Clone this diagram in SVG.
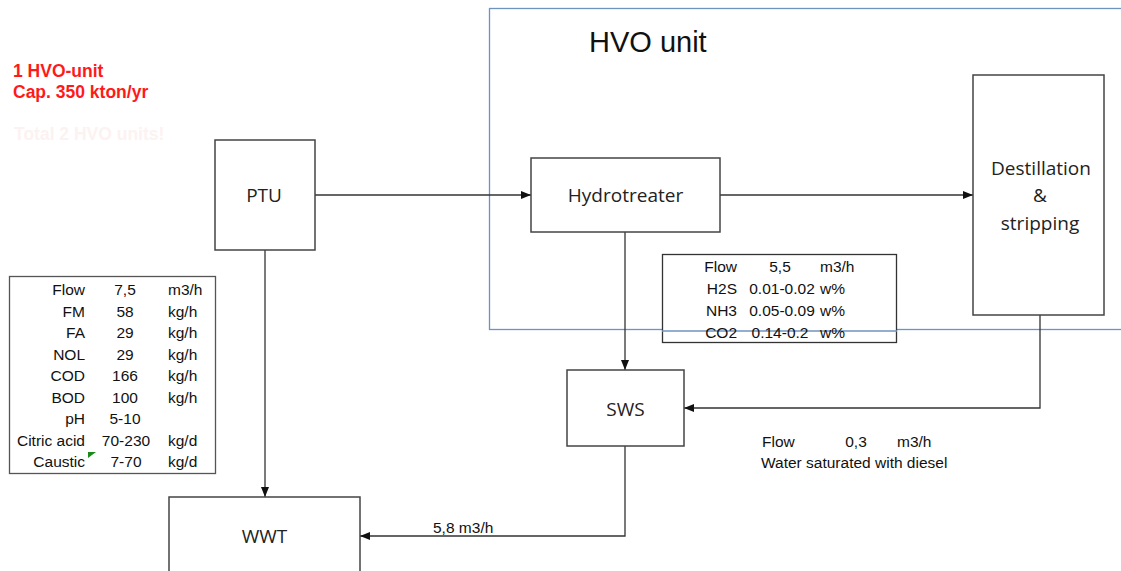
<svg xmlns="http://www.w3.org/2000/svg" width="1121" height="571" viewBox="0 0 1121 571">
<defs>
<marker id="arr" markerWidth="10" markerHeight="8" refX="10" refY="4" orient="auto" markerUnits="userSpaceOnUse">
<path d="M0,0 L10,4 L0,8 Z" fill="#111"/>
</marker>
<style>
.box{fill:#fff;stroke:#444;stroke-width:1.5}
.lbl{font-family:"Open Sans","Liberation Sans",sans-serif;font-size:19px;fill:#222;text-anchor:middle}
.tb{font-family:"Liberation Sans",Arial,sans-serif;font-size:15.5px;fill:#111}
.con{fill:none;stroke:#333;stroke-width:1.3}
.r{text-anchor:end}
.m{text-anchor:middle}
.red{font-family:"Liberation Sans",Arial,sans-serif;font-size:17.5px;font-weight:bold;fill:#ff1a1a}
</style>
</defs>
<rect width="1121" height="571" fill="#fff"/>
<g id="hvo-unit">
<rect x="489.5" y="8.5" width="640" height="321" fill="none" stroke="#6f93c0" stroke-width="1.3"/>
<text x="589" y="52" font-family="Liberation Sans,Arial,sans-serif" font-size="29" fill="#111">HVO unit</text>
</g>
<g id="notes">
<text class="red" x="13" y="77">1 HVO-unit</text>
<text class="red" x="13" y="98">Cap. 350 kton/yr</text>
<text class="red" x="14" y="140" style="fill:#fdf2f2">Total 2 HVO units!</text>
</g>
<g id="connectors">
<line class="con" x1="315" y1="195" x2="531" y2="195" marker-end="url(#arr)"/>
<line class="con" x1="720" y1="195" x2="973" y2="195" marker-end="url(#arr)"/>
<line class="con" x1="625" y1="232" x2="625" y2="370" marker-end="url(#arr)"/>
<polyline class="con" points="1040,315 1040,408 684,408" marker-end="url(#arr)"/>
<polyline class="con" points="625,446 625,536 360,536" marker-end="url(#arr)"/>
<line class="con" x1="265" y1="250" x2="265" y2="497" marker-end="url(#arr)"/>
<text class="tb" x="433" y="533">5,8 m3/h</text>
</g>
<g id="ptu">
<rect class="box" x="215" y="140" width="100" height="110"/>
<text class="lbl" x="264" y="202">PTU</text>
</g>
<g id="hydrotreater">
<rect class="box" x="531" y="158" width="189" height="74"/>
<text class="lbl" x="625.5" y="202">Hydrotreater</text>
</g>
<g id="destillation">
<rect class="box" x="973" y="75" width="131" height="240"/>
<text class="lbl" x="1041" y="175">Destillation</text>
<text class="lbl" x="1040" y="202">&amp;</text>
<text class="lbl" x="1040" y="230">stripping</text>
</g>
<g id="sws">
<rect class="box" x="567" y="370" width="117" height="76"/>
<text class="lbl" x="625.5" y="416">SWS</text>
</g>
<g id="wwt">
<rect class="box" x="169" y="497" width="191" height="90"/>
<text class="lbl" x="264.5" y="543">WWT</text>
</g>
<g id="ptu-table">
<rect x="9.5" y="276.5" width="206" height="197" fill="#fff" stroke="#555" stroke-width="1.3"/>
<text class="tb r" x="85" y="295">Flow</text><text class="tb m" x="125" y="295">7,5</text><text class="tb" x="168" y="295">m3/h</text>
<text class="tb r" x="85" y="317">FM</text><text class="tb m" x="125" y="317">58</text><text class="tb" x="168" y="317">kg/h</text>
<text class="tb r" x="85" y="338">FA</text><text class="tb m" x="125" y="338">29</text><text class="tb" x="168" y="338">kg/h</text>
<text class="tb r" x="85" y="360">NOL</text><text class="tb m" x="125" y="360">29</text><text class="tb" x="168" y="360">kg/h</text>
<text class="tb r" x="85" y="381">COD</text><text class="tb m" x="125" y="381">166</text><text class="tb" x="168" y="381">kg/h</text>
<text class="tb r" x="85" y="403">BOD</text><text class="tb m" x="125" y="403">100</text><text class="tb" x="168" y="403">kg/h</text>
<text class="tb r" x="85" y="424">pH</text><text class="tb m" x="125" y="424">5-10</text>
<text class="tb r" x="85" y="446">Citric acid</text><text class="tb m" x="126" y="446">70-230</text><text class="tb" x="168" y="446">kg/d</text>
<text class="tb r" x="85" y="467">Caustic</text><text class="tb m" x="126" y="467">7-70</text><text class="tb" x="168" y="467">kg/d</text>
<polygon points="88,452 96,452 88,458" fill="#1a8a1a"/>
</g>
<g id="hydro-table">
<rect x="662.5" y="254.5" width="234" height="88" fill="#fff" stroke="#333" stroke-width="1.3"/>
<line x1="662" y1="331" x2="897" y2="331" stroke="#6f93c0" stroke-width="1.3"/>
<text class="tb r" x="737" y="272">Flow</text><text class="tb m" x="780" y="272">5,5</text><text class="tb" x="820" y="272">m3/h</text>
<text class="tb r" x="737" y="294">H2S</text><text class="tb m" x="782" y="294">0.01-0.02</text><text class="tb" x="820" y="294">w%</text>
<text class="tb r" x="737" y="316">NH3</text><text class="tb m" x="782" y="316">0.05-0.09</text><text class="tb" x="820" y="316">w%</text>
<text class="tb r" x="737" y="338">CO2</text><text class="tb m" x="780" y="338">0.14-0.2</text><text class="tb" x="820" y="338">w%</text>
</g>
<g id="sws-note">
<text class="tb" x="762" y="447">Flow</text><text class="tb m" x="856" y="447">0,3</text><text class="tb" x="897" y="447">m3/h</text>
<text class="tb" x="761" y="468">Water saturated with diesel</text>
</g>
</svg>
